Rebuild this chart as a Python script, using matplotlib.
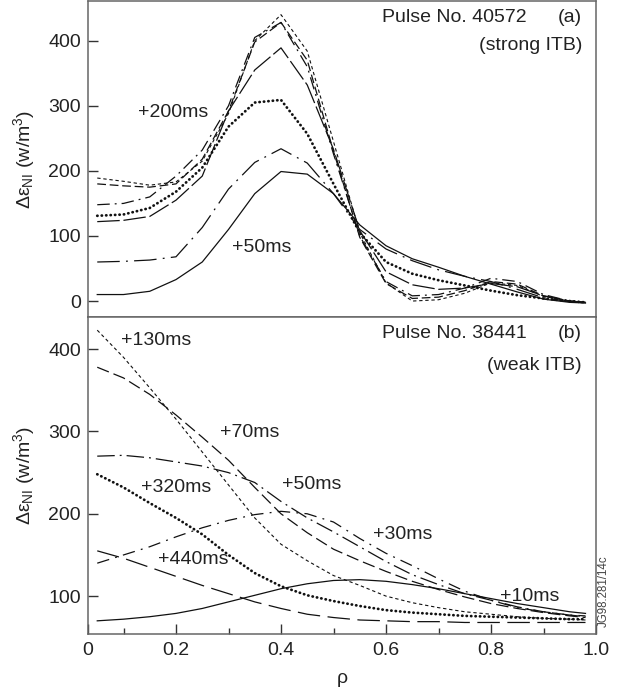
import matplotlib
matplotlib.use("Agg")
import matplotlib.pyplot as plt

plt.rcParams['font.family'] = ['Liberation Sans', 'DejaVu Sans']
plt.rcParams['mathtext.default'] = 'regular'

# ---------------- data ----------------
rho = [0.05, 0.10, 0.15, 0.20, 0.25, 0.30, 0.35, 0.40, 0.45, 0.50,
       0.55, 0.60, 0.65, 0.70, 0.75, 0.80, 0.85, 0.90, 0.95, 0.98]

# (a) Pulse No. 40572 (strong ITB)
a_50ms = [10, 10, 15, 33, 60, 110, 165, 199, 195, 165, 117, 85, 65, 52, 38, 26, 14, 3, -2, -3]
a_dashdot_low = [60, 61, 63, 68, 113, 172, 213, 234, 212, 165, 110, 80, 62, 48, 38, 30, 18, 5, -1, -3]
a_dotted = [131, 133, 143, 168, 205, 268, 305, 309, 257, 180, 105, 60, 42, 32, 24, 16, 9, 4, 0, -2]
a_longdash = [122, 124, 130, 155, 192, 292, 355, 389, 332, 233, 108, 45, 25, 18, 20, 27, 22, 8, 0, -2]
a_dashdot_up = [148, 150, 160, 192, 232, 300, 405, 428, 360, 226, 100, 30, 8, 10, 20, 35, 30, 10, 0, -2]
a_dashed = [180, 177, 175, 180, 218, 292, 398, 428, 370, 230, 98, 27, 4, 6, 16, 30, 26, 8, 0, -2]
a_200ms = [189, 184, 178, 183, 215, 288, 400, 440, 384, 245, 105, 28, 0, 2, 12, 28, 24, 7, 0, -3]

# (b) Pulse No. 38441 (weak ITB)
b_130ms = [423, 390, 353, 315, 275, 235, 195, 163, 143, 125, 113, 100, 92, 86, 81, 78, 75, 73, 72, 71]
b_70ms = [378, 365, 345, 320, 293, 265, 232, 200, 177, 157, 143, 130, 118, 108, 99, 91, 85, 80, 76, 74]
b_50ms = [270, 271, 268, 263, 258, 250, 238, 215, 195, 178, 160, 142, 126, 114, 103, 95, 87, 81, 77, 75]
b_320ms = [248, 232, 213, 195, 175, 150, 128, 112, 101, 94, 88, 83, 80, 78, 76, 75, 74, 73, 72, 72]
b_440ms = [155, 146, 135, 124, 113, 103, 93, 85, 78, 74, 71, 70, 69, 69, 68, 68, 68, 68, 68, 68]
b_30ms = [140, 150, 160, 172, 183, 192, 199, 203, 200, 190, 170, 152, 137, 121, 106, 95, 86, 81, 77, 76]
b_10ms = [70, 72, 75, 79, 85, 93, 101, 109, 115, 119, 120, 118, 114, 109, 103, 97, 91, 86, 81, 79]

xtick_vals = [0.2, 0.4, 0.6, 0.8, 1.0]
xtick_labels = ['0', '0.2', '0.4', '0.6', '0.8', '1.0']
ytick_top = [0, 100, 200, 300, 400]
ytick_bot = [100, 200, 300, 400]

# ---------------- styles ----------------
LW = 0.9
K = '#111111'
SPINE = '#666666'
TXT = '#222222'
FS = 14

S_SOLID = dict(ls='-', lw=LW)
S_DOT = dict(ls=(0, (0.1, 1.5)), lw=2.0, dash_capstyle='round')
S_SHORT = dict(ls=(0, (3, 2.5)), lw=0.8)

fig = plt.figure(figsize=(6.27, 6.93), dpi=100)
L, R = 88 / 627, 596 / 627
ax1 = fig.add_axes([L, 1 - 317 / 693, R - L, (317 - 1) / 693])
ax2 = fig.add_axes([L, 1 - 634 / 693, R - L, (634 - 317) / 693])

x0 = (88 - 71) / 525

# top panel
ax1.plot(rho, a_50ms, color=K, **S_SOLID)
ax1.plot(rho, a_dashdot_low, color=K, ls=(0, (18, 5, 1.5, 5)), lw=LW)
ax1.plot(rho, a_dotted, color=K, **S_DOT)
ax1.plot(rho, a_longdash, color=K, ls=(0, (18, 3)), lw=LW)
ax1.plot(rho, a_dashdot_up, color=K, ls=(0, (10, 4, 1.5, 4)), lw=LW)
ax1.plot(rho, a_dashed, color=K, ls=(0, (7, 3)), lw=LW)
ax1.plot(rho, a_200ms, color=K, **S_SHORT)

# bottom panel
ax2.plot(rho, b_130ms, color=K, **S_SHORT)
ax2.plot(rho, b_70ms, color=K, ls=(0, (10, 4)), lw=LW)
ax2.plot(rho, b_50ms, color=K, ls=(0, (14, 4, 1.5, 4)), lw=LW)
ax2.plot(rho, b_320ms, color=K, **S_DOT)
ax2.plot(rho, b_440ms, color=K, ls=(0, (18, 6)), lw=LW)
ax2.plot(rho, b_30ms, color=K, ls=(0, (10, 5, 1.5, 5)), lw=LW)
ax2.plot(rho, b_10ms, color=K, **S_SOLID)

ax1.set_xlim(x0, 1.0)
ax2.set_xlim(x0, 1.0)
ax1.set_ylim(-24.5, 461)
ax2.set_ylim(54, 439)

for ax in (ax1, ax2):
    for sp in ax.spines.values():
        sp.set_color(SPINE)
        sp.set_linewidth(1.1)
    ax.tick_params(direction='in', length=7, width=1.0, color='#333333',
                   labelsize=FS, labelcolor=TXT, pad=5)
    ax.set_ylabel('Δε$_{NI}$ (w/m$^3$)', fontsize=FS, color=TXT, labelpad=6)
    ax.yaxis.set_label_coords(-0.10, 0.5)

ax1.set_yticks(ytick_top)
ax1.set_xticks([])
ax2.set_yticks(ytick_bot)
ax2.set_xticks([x0] + xtick_vals)
ax2.set_xticklabels(xtick_labels)
ax2.set_xticks([0.1, 0.3, 0.5, 0.7, 0.9], minor=True)
ax2.tick_params(axis='x', which='minor', direction='in', length=4, width=1.0, color='#333333')
ax2.tick_params(axis='x', which='major', pad=6)
ax2.set_xlabel('ρ', fontsize=FS, color=TXT, labelpad=8)

# annotations (top)
ax1.text(0.128, 289, '+200ms', fontsize=FS, color=TXT, va='center', ha='left')
ax1.text(0.307, 83, '+50ms', fontsize=FS, color=TXT, va='center', ha='left')
ax1.text(527, 693 - 18, 'Pulse No. 40572', transform=None, fontsize=FS, color=TXT, ha='right', va='center')
ax1.text(582, 693 - 18, '(a)', transform=None, fontsize=FS, color=TXT, ha='right', va='center')
ax1.text(582, 693 - 46, '(strong ITB)', transform=None, fontsize=FS, color=TXT, ha='right', va='center')

# annotations (bottom)
for (x, y, s) in [(0.095, 411, '+130ms'), (0.284, 299, '+70ms'), (0.133, 232, '+320ms'),
                  (0.402, 235, '+50ms'), (0.166, 144, '+440ms'), (0.575, 175, '+30ms'),
                  (0.817, 100, '+10ms')]:
    ax2.text(x, y, s, fontsize=FS, color=TXT, va='center', ha='left')
ax2.text(527, 693 - 334, 'Pulse No. 38441', transform=None, fontsize=FS, color=TXT, ha='right', va='center')
ax2.text(582, 693 - 334, '(b)', transform=None, fontsize=FS, color=TXT, ha='right', va='center')
ax2.text(582, 693 - 366, '(weak ITB)', transform=None, fontsize=FS, color=TXT, ha='right', va='center')

fig.text(604 / 627, 1 - 591 / 693, 'JG98.281/14c', rotation=90, fontsize=8.3,
         color='#444444', ha='center', va='center')

fig.savefig('out.png', dpi=100)
